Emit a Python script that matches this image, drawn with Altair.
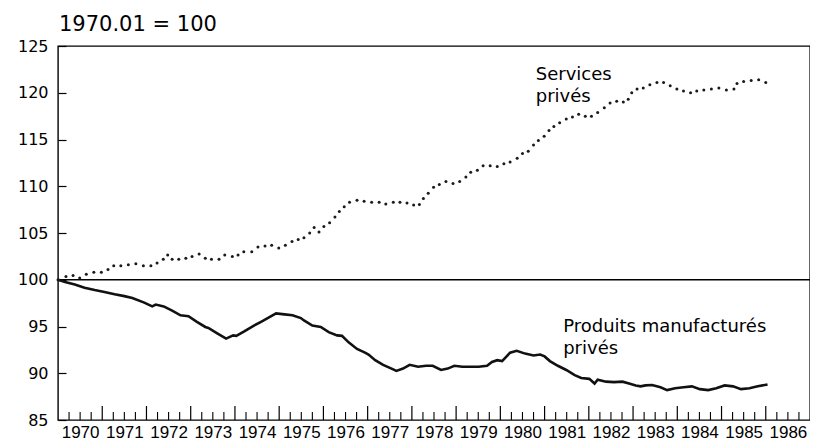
import altair as alt
import pandas as pd

# ---- data ----
services_year = [1970.00, 1970.18, 1970.34, 1970.49, 1970.64, 1970.81, 1970.98, 1971.13, 1971.26, 1971.42,
                 1971.59, 1971.76, 1971.93, 1972.10, 1972.24, 1972.38, 1972.48, 1972.58, 1972.73, 1972.89,
                 1973.03, 1973.19, 1973.33, 1973.47, 1973.64, 1973.77, 1973.94, 1974.07, 1974.20, 1974.38,
                 1974.52, 1974.68, 1974.83, 1974.99, 1975.14, 1975.29, 1975.43, 1975.56, 1975.69, 1975.79,
                 1975.90, 1976.01, 1976.14, 1976.26, 1976.36, 1976.47, 1976.59, 1976.76, 1976.92, 1977.09,
                 1977.26, 1977.41, 1977.58, 1977.73, 1977.89, 1978.04, 1978.17, 1978.26, 1978.37, 1978.49,
                 1978.62, 1978.77, 1978.93, 1979.08, 1979.22, 1979.33, 1979.48, 1979.61, 1979.77, 1979.93,
                 1980.08, 1980.22, 1980.38, 1980.50, 1980.63, 1980.75, 1980.86, 1980.99, 1981.10, 1981.21,
                 1981.34, 1981.49, 1981.63, 1981.77, 1981.92, 1982.06, 1982.20, 1982.35, 1982.48, 1982.63,
                 1982.78, 1982.89, 1982.97, 1983.09, 1983.23, 1983.38, 1983.54, 1983.69, 1983.84, 1983.99,
                 1984.14, 1984.30, 1984.44, 1984.60, 1984.77, 1984.94, 1985.11, 1985.28, 1985.35, 1985.50,
                 1985.67, 1985.84, 1986.00]
services_value = [100.0, 100.35, 100.45, 100.2, 100.6, 100.8, 100.8, 101.1, 101.5, 101.5,
                  101.6, 101.7, 101.5, 101.5, 101.8, 102.2, 102.65, 102.2, 102.2, 102.3,
                  102.5, 102.75, 102.3, 102.2, 102.2, 102.65, 102.5, 102.65, 103.0, 103.0,
                  103.5, 103.6, 103.7, 103.4, 103.7, 104.1, 104.3, 104.5, 105.0, 105.6,
                  105.1, 105.7, 106.1, 106.7, 107.3, 107.8, 108.3, 108.5, 108.4, 108.3,
                  108.3, 108.1, 108.3, 108.3, 108.2, 108.0, 108.05, 108.7, 109.25, 109.9,
                  110.2, 110.5, 110.3, 110.5, 111.0, 111.5, 111.7, 112.2, 112.2, 112.1,
                  112.4, 112.6, 113.0, 113.5, 113.75, 114.4, 114.9, 115.35, 115.95, 116.4,
                  116.8, 117.2, 117.4, 117.7, 117.5, 117.5, 117.9, 118.4, 118.9, 119.1,
                  119.0, 119.3, 120.0, 120.4, 120.5, 120.85, 121.1, 121.1, 120.75, 120.4,
                  120.2, 120.0, 120.2, 120.3, 120.4, 120.5, 120.3, 120.4, 121.0, 121.2,
                  121.3, 121.4, 121.1]

produits_year = [1970.00, 1970.16, 1970.38, 1970.60, 1970.83, 1971.05, 1971.28, 1971.50, 1971.68, 1971.95,
                 1972.13, 1972.21, 1972.39, 1972.58, 1972.77, 1972.95, 1973.14, 1973.33, 1973.40, 1973.59,
                 1973.80, 1973.96, 1974.03, 1974.22, 1974.41, 1974.59, 1974.78, 1974.93, 1975.12, 1975.30,
                 1975.49, 1975.56, 1975.75, 1975.94, 1976.12, 1976.31, 1976.42, 1976.57, 1976.76, 1976.94,
                 1977.02, 1977.17, 1977.35, 1977.54, 1977.65, 1977.80, 1977.95, 1978.14, 1978.32, 1978.47,
                 1978.66, 1978.81, 1978.96, 1979.14, 1979.33, 1979.51, 1979.70, 1979.81, 1979.93, 1980.04,
                 1980.22, 1980.37, 1980.56, 1980.75, 1980.90, 1981.00, 1981.12, 1981.30, 1981.49, 1981.68,
                 1981.83, 1982.01, 1982.13, 1982.20, 1982.39, 1982.57, 1982.76, 1982.91, 1983.06, 1983.17,
                 1983.28, 1983.43, 1983.62, 1983.77, 1983.95, 1984.14, 1984.33, 1984.51, 1984.70, 1984.88,
                 1985.07, 1985.26, 1985.44, 1985.63, 1985.82, 1986.04]
produits_value = [100.0, 99.75, 99.5, 99.15, 98.9, 98.7, 98.45, 98.25, 98.05, 97.55,
                  97.15, 97.35, 97.15, 96.7, 96.2, 96.1, 95.5, 94.95, 94.85, 94.3,
                  93.7, 94.05, 94.0, 94.5, 95.05, 95.5, 96.0, 96.4, 96.3, 96.2,
                  95.9, 95.65, 95.1, 94.95, 94.4, 94.05, 94.0, 93.3, 92.6, 92.2,
                  92.0, 91.4, 90.9, 90.5, 90.25, 90.5, 90.9, 90.7, 90.8, 90.8,
                  90.35, 90.5, 90.8, 90.7, 90.7, 90.7, 90.8, 91.2, 91.4, 91.3,
                  92.2, 92.4, 92.1, 91.9, 92.0, 91.8, 91.3, 90.8, 90.35, 89.8,
                  89.5, 89.4, 88.9, 89.3, 89.1, 89.05, 89.1, 88.9, 88.7, 88.6,
                  88.7, 88.75, 88.5, 88.2, 88.4, 88.5, 88.6, 88.3, 88.2, 88.4,
                  88.7, 88.6, 88.3, 88.4, 88.6, 88.8]

year_labels = list(range(1970, 1987))
major_ticks = list(range(1971, 1987))
minor_ticks = [y + q for y in range(1970, 1987) for q in (0.25, 0.5, 0.75)]
y_ticks = [85, 90, 95, 100, 105, 110, 115, 120, 125]
reference_level = [100]

title_text = "1970.01 = 100"
label_services = "Services\nprivés"
label_produits = "Produits manufacturés\nprivés"
annot_services_pos = (1980.80, 121.35)
annot_produits_pos = (1981.42, 94.45)

# ---- chart ----
W, H = 752, 374
FONT = "DejaVu Sans"

x_scale = alt.Scale(domain=[1970, 1987], nice=False, zero=False)
y_scale = alt.Scale(domain=[85, 125], nice=False, zero=False)

x_axis = alt.Axis(values=[y + 0.5 for y in year_labels], labelExpr="'' + floor(datum.value)",
                  ticks=False, domain=False, grid=False, labelFont="Liberation Sans",
                  labelFontSize=17, labelColor="black", labelPadding=4,
                  labelOverlap=False, labelFlush=False, title=None)
y_axis = alt.Axis(values=y_ticks, offset=-8, tickSize=8, tickColor="black", tickWidth=1.2,
                  domain=False, grid=False, labelFont=FONT, labelFontSize=16,
                  labelColor="black", labelPadding=10, title=None)

X = lambda f: alt.X(f, type="quantitative", scale=x_scale, axis=x_axis)
Y = lambda f: alt.Y(f, type="quantitative", scale=y_scale, axis=y_axis)

df_s = pd.DataFrame({"year": services_year, "value": services_value})
df_p = pd.DataFrame({"year": produits_year, "value": produits_value})

services = alt.Chart(df_s).mark_circle(size=9, color="#1a1a1a", opacity=1).encode(
    x=X("year"), y=Y("value"))
produits = alt.Chart(df_p).mark_line(color="#111", strokeWidth=2.6).encode(
    x=X("year"), y=Y("value"))

ref = alt.Chart(pd.DataFrame({"v": reference_level})).mark_rule(
    color="black", strokeWidth=1.4).encode(y=Y("v"))

major = alt.Chart(pd.DataFrame({"t": major_ticks})).mark_rule(
    color="black", strokeWidth=1.2).encode(x=X("t"), y=alt.value(H), y2=alt.value(H - 14))
minor = alt.Chart(pd.DataFrame({"t": minor_ticks})).mark_rule(
    color="black", strokeWidth=1.1).encode(x=X("t"), y=alt.value(H), y2=alt.value(H - 8))

title = alt.Chart(pd.DataFrame({"t": [title_text]})).mark_text(
    align="left", baseline="alphabetic", font=FONT, fontSize=21, color="black"
).encode(x=alt.value(1), y=alt.value(-15), text="t:N")

ann = pd.DataFrame({
    "x": [annot_services_pos[0], annot_produits_pos[0]],
    "y": [annot_services_pos[1], annot_produits_pos[1]],
    "t": [label_services, label_produits],
})
annotations = alt.Chart(ann).mark_text(
    align="left", baseline="alphabetic", font=FONT, fontSize=18, color="black",
    lineBreak="\n", lineHeight=22
).encode(x=X("x"), y=Y("y"), text="t:N")

chart = alt.layer(ref, major, minor, produits, services, annotations, title).properties(
    width=W, height=H,
    padding={"left": 50, "top": 38, "right": 0, "bottom": 20},
    autosize=alt.AutoSizeParams(type="none"),
    background="white",
).configure_view(stroke="black", strokeWidth=1.4)

chart.save("out.html", embed_options={"renderer": "svg", "actions": False})
